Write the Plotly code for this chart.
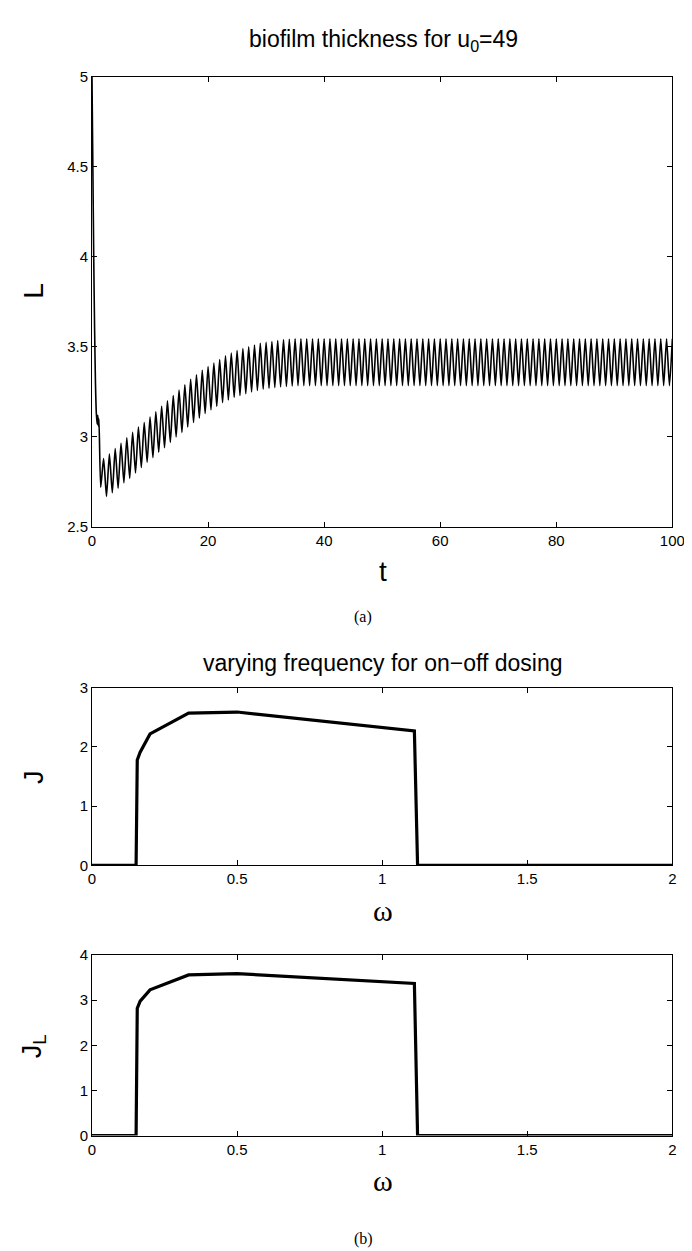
import plotly.graph_objects as go

# ---------------- data: (a) biofilm thickness ----------------
t_start = [0.0, 0.15, 0.3, 0.45, 0.6, 0.75, 0.9, 1.0, 1.1, 1.2]
L_start = [5.0, 4.5, 4.0, 3.6, 3.3, 3.13, 3.07, 3.12, 3.06, 3.1]

# peaks at t = 2, 3, ..., 100
peak_L = [2.88, 2.905, 2.935, 2.965, 2.995, 3.025, 3.055, 3.08, 3.11, 3.14,
          3.17, 3.20, 3.23, 3.26, 3.29, 3.32, 3.345, 3.37, 3.39, 3.41,
          3.43, 3.45, 3.465, 3.48, 3.49, 3.50, 3.51, 3.52, 3.525, 3.53,
          3.535, 3.54, 3.542,
          3.545, 3.545, 3.545, 3.545, 3.545, 3.545, 3.545, 3.545, 3.545, 3.545,
          3.545, 3.545, 3.545, 3.545, 3.545, 3.545, 3.545, 3.545, 3.545, 3.545,
          3.545, 3.545, 3.545, 3.545, 3.545, 3.545, 3.545, 3.545, 3.545, 3.545,
          3.545, 3.545, 3.545, 3.545, 3.545, 3.545, 3.545, 3.545, 3.545, 3.545,
          3.545, 3.545, 3.545, 3.545, 3.545, 3.545, 3.545, 3.545, 3.545, 3.545,
          3.545, 3.545, 3.545, 3.545, 3.545, 3.545, 3.545, 3.545, 3.545, 3.545,
          3.545, 3.545, 3.545, 3.545, 3.545, 3.545]
peak_t = list(range(2, 2 + len(peak_L)))

# troughs at t = 1.5, 2.5, ..., 99.5
trough_L = [2.72, 2.67, 2.69, 2.715, 2.745, 2.77, 2.80, 2.83, 2.86, 2.885,
            2.915, 2.94, 2.97, 3.00, 3.025, 3.055, 3.08, 3.105, 3.13, 3.15,
            3.17, 3.19, 3.205, 3.22, 3.23, 3.24, 3.25, 3.258, 3.265, 3.27,
            3.274, 3.278, 3.28, 3.283,
            3.285, 3.285, 3.285, 3.285, 3.285, 3.285, 3.285, 3.285, 3.285, 3.285,
            3.285, 3.285, 3.285, 3.285, 3.285, 3.285, 3.285, 3.285, 3.285, 3.285,
            3.285, 3.285, 3.285, 3.285, 3.285, 3.285, 3.285, 3.285, 3.285, 3.285,
            3.285, 3.285, 3.285, 3.285, 3.285, 3.285, 3.285, 3.285, 3.285, 3.285,
            3.285, 3.285, 3.285, 3.285, 3.285, 3.285, 3.285, 3.285, 3.285, 3.285,
            3.285, 3.285, 3.285, 3.285, 3.285, 3.285, 3.285, 3.285, 3.285, 3.285,
            3.285, 3.285, 3.285, 3.285, 3.285]
trough_t = [k + 1.5 for k in range(len(trough_L))]

top_xticks = [0, 20, 40, 60, 80, 100]
top_yticks = [2.5, 3, 3.5, 4, 4.5, 5]

# ---------------- data: (b) varying frequency ----------------
omega = [0.0, 0.152, 0.156, 0.166, 0.2, 0.333, 0.5, 1.111, 1.122, 2.0]
J = [0.0, 0.0, 1.78, 1.91, 2.22, 2.57, 2.59, 2.27, 0.0, 0.0]
J_L = [0.0, 0.0, 2.82, 2.98, 3.23, 3.56, 3.59, 3.37, 0.0, 0.0]
omega_ticks = [0, 0.5, 1, 1.5, 2]

# combine transient + oscillation points in time order
osc = sorted(list(zip(peak_t, peak_L)) + list(zip(trough_t, trough_L)))
t_all = t_start + [p[0] for p in osc]
L_all = L_start + [p[1] for p in osc]

W, H = 692, 1251
def fx(x):
    return x / W
def fy(y):
    return 1 - y / H

SANS = "Liberation Sans, Arial, Helvetica, sans-serif"
SERIF = "Liberation Serif, Times New Roman, serif"

fig = go.Figure()
fig.add_trace(go.Scatter(x=t_all, y=L_all, mode="lines",
                         line=dict(color="black", width=1.6, shape="spline", smoothing=0.6),
                         xaxis="x", yaxis="y", showlegend=False))
fig.add_trace(go.Scatter(x=omega, y=J, mode="lines",
                         line=dict(color="black", width=3.2),
                         xaxis="x2", yaxis="y2", showlegend=False))
fig.add_trace(go.Scatter(x=omega, y=J_L, mode="lines",
                         line=dict(color="black", width=3.2),
                         xaxis="x3", yaxis="y3", showlegend=False))

axis_common = dict(showline=True, linecolor="black", linewidth=1, mirror="ticks",
                   ticks="inside", ticklen=5, tickwidth=1, tickcolor="black",
                   showgrid=False, zeroline=False,
                   tickfont=dict(family=SANS, size=15, color="black"))

xdom = [fx(82), fx(677)]
fig.update_layout(
    width=W, height=H, autosize=False,
    margin=dict(l=0, r=0, t=0, b=0),
    paper_bgcolor="white", plot_bgcolor="white",
    xaxis=dict(domain=xdom, range=[0, 100], tickvals=top_xticks, anchor="y", **axis_common),
    yaxis=dict(domain=[fy(517), fy(60.5)], range=[2.5, 5], tickvals=top_yticks, anchor="x", **axis_common),
    xaxis2=dict(domain=xdom, range=[0, 2], tickvals=omega_ticks, anchor="y2", **axis_common),
    yaxis2=dict(domain=[fy(860), fy(680)], range=[0, 3], tickvals=[0, 1, 2, 3], anchor="x2", **axis_common),
    xaxis3=dict(domain=xdom, range=[0, 2], tickvals=omega_ticks, anchor="y3", **axis_common),
    yaxis3=dict(domain=[fy(1134), fy(951)], range=[0, 4], tickvals=[0, 1, 2, 3, 4], anchor="x3", **axis_common),
)

def ann(text, x, y, size, family=SANS, angle=0):
    fig.add_annotation(text=text, x=fx(x), y=fy(y), xref="paper", yref="paper",
                       xanchor="center", yanchor="middle", showarrow=False,
                       textangle=angle, font=dict(family=family, size=size, color="black"))

ann("biofilm thickness for u<sub>0</sub>=49", 381, 24, 23)
ann("t", 380, 562, 28)
ann("L", 22, 277, 28, angle=-90)
ann("(a)", 360, 608, 16, family=SERIF)
ann("varying frequency for on\u2212off dosing", 380, 655, 23)
ann("J", 22, 770, 27, angle=-90)
ann("\u03c9", 380, 906, 30, family=SERIF)
ann("J<sub>L</sub>", 22, 1043, 27, angle=-90)
ann("\u03c9", 380, 1180, 30, family=SERIF)
ann("(b)", 360, 1239, 16, family=SERIF)

fig.write_html("out.html")
